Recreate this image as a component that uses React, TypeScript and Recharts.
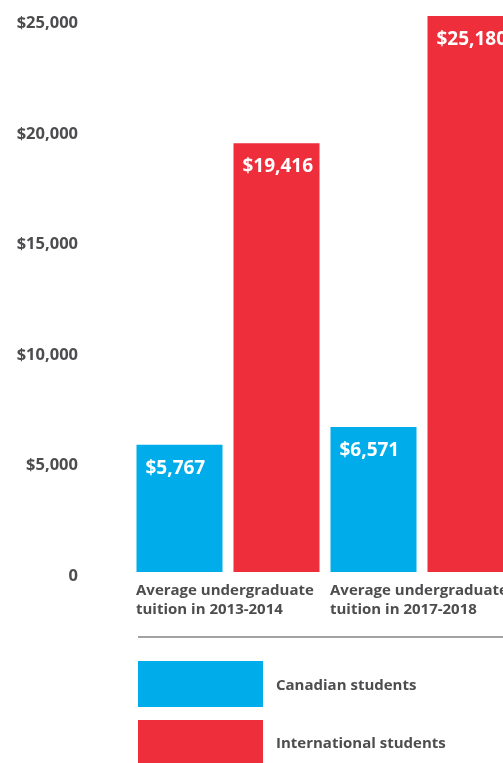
import React from 'react';
import { BarChart, Bar, XAxis, YAxis, Legend, LabelList } from 'recharts';

const categories = ['Average undergraduate tuition in 2013-2014', 'Average undergraduate tuition in 2017-2018'];
const canadian = [5767, 6571];
const international = [19416, 25180];
const yTicks = [0, 5000, 10000, 15000, 20000, 25000];
const seriesNames = ['Canadian students', 'International students'];

const BLUE = '#00ADEA';
const RED = '#EE2E3A';
const TEXT = '#4d4d4f';
const FONT = '"Open Sans", sans-serif';

const data = categories.map((c, i) => ({ category: c, canadian: canadian[i], international: international[i] }));

const money = (v: number) => (v === 0 ? '0' : '$' + v.toLocaleString('en-US'));

const YTick = (props: any) => {
  const { x, y, payload } = props;
  return (
    <text x={x} y={y + 2} textAnchor="end" dominantBaseline="central" fill={TEXT}
      fontFamily={FONT} fontWeight={700} fontSize={16.5}>
      {money(payload.value)}
    </text>
  );
};

const XTick = (props: any) => {
  const { x, y, payload } = props;
  const words = String(payload.value).split(' ');
  const lines = [words.slice(0, 2).join(' '), words.slice(2).join(' ')];
  return (
    <g>
      {lines.map((l, i) => (
        <text key={i} x={x - 91.5} y={y + 9 + i * 19} textAnchor="start" dominantBaseline="central"
          fill={TEXT} fontFamily={FONT} fontWeight={700} fontSize={15}>
          {l}
        </text>
      ))}
    </g>
  );
};

const BarLabel = (props: any) => {
  const { x, y, value } = props;
  return (
    <text x={x + 9} y={y + 22} dominantBaseline="central" fill="#fff"
      fontFamily={FONT} fontWeight={700} fontSize={19}>
      {money(value)}
    </text>
  );
};

const LegendBox = () => {
  const colors = [BLUE, RED];
  return (
    <div style={{ position: 'relative', width: 511, height: 135, fontFamily: FONT }}>
      <div style={{ position: 'absolute', left: 130, top: 8, right: 0, height: 2, background: '#a3a3a3' }} />
      {seriesNames.map((n, i) => (
        <div key={n} style={{ position: 'absolute', left: 130, top: 33 + i * 59, height: i === 0 ? 46 : 43, display: 'flex', alignItems: 'center' }}>
          <div style={{ width: 125, height: '100%', background: colors[i] }} />
          <span style={{ marginLeft: 13, color: TEXT, fontWeight: 700, fontSize: 15 }}>{n}</span>
        </div>
      ))}
    </div>
  );
};

export default function App() {
  return (
    <div style={{ position: 'fixed', left: 8, top: 8, width: 495, height: 755, overflow: 'hidden' }}>
      <BarChart width={511} height={755} data={data} barSize={86} barGap={11}
        margin={{ top: 8, right: 0.5, left: 0, bottom: 0 }}>
        <YAxis type="number" domain={[0, 25000]} ticks={yTicks} width={122.5} axisLine={false}
          tickLine={false} tickSize={0} tickMargin={52.5} tick={<YTick />} interval={0} />
        <XAxis dataKey="category" axisLine={false} tickLine={false} height={56} tick={<XTick />} interval={0} />
        <Legend verticalAlign="bottom" content={<LegendBox />}
          wrapperStyle={{ left: 0, width: 511, height: 135 }} />
        <Bar dataKey="canadian" fill={BLUE} isAnimationActive={false}>
          <LabelList dataKey="canadian" content={<BarLabel />} />
        </Bar>
        <Bar dataKey="international" fill={RED} isAnimationActive={false}>
          <LabelList dataKey="international" content={<BarLabel />} />
        </Bar>
      </BarChart>
    </div>
  );
}
